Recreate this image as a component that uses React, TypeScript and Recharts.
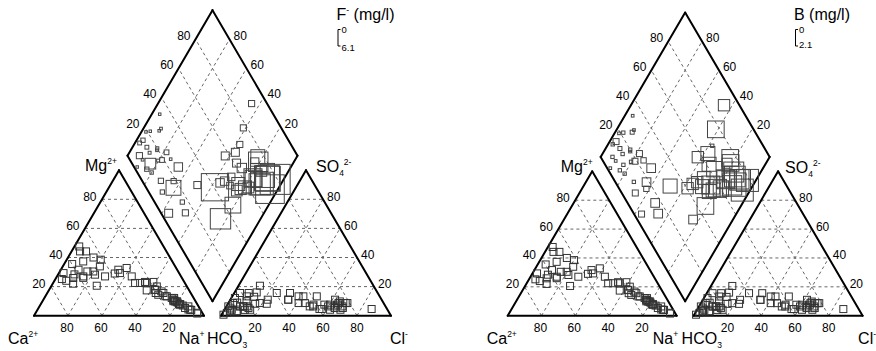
import React from 'react';
import { ScatterChart, Scatter, XAxis, YAxis, ReferenceLine } from 'recharts';

// major ions of each water sample, meq %
const caPct = [59.8, 58, 50.8, 68, 64, 62, 52.8, 49.6, 47.3, 71, 69, 44.3, 50, 53.4, 34.6, 29.1, 44.7, 34.8, 29.3, 29, 23.1, 26.3, 19.8, 12.6, 11.2, 58,
  22.4, 18.2, 17.7, 20, 25, 16.6, 11.2, 12, 6.1, 9, 3, 5.5, 20.6, 19.7, 16, 11.5, 12.9, 11, 10.3, 3.2, 7, 10.8,
  52.4, 41.5, 49.9, 57.5, 16.1, 12.2, 6, 15.2, 8.5, 13, 10, 66, 45, 38];
const mgPct = [35.5, 31.6, 44.2, 29.3, 25.9, 28.4, 20.6, 47.6, 44.2, 25.2, 24, 33.9, 28.2, 30.4, 31.6, 32.8, 27, 29.3, 22.5, 27, 23.2, 22.5, 17.9, 11, 9.8, 26,
  22.5, 23.2, 20.1, 17.7, 17.4, 16.7, 9.8, 11, 4.1, 7, 2, 4, 15.6, 14.4, 13.4, 12.2, 12.2, 9, 7.6, 1.5, 4.3, 7.8,
  37.3, 38.5, 30.4, 27, 15.6, 9.8, 6.4, 13.3, 5.3, 10, 8, 22, 40, 29];
const clPct = [12.6, 13, 8.5, 3.4, 18.5, 1.1, 16, 2.8, 2.1, 8, 4, 8.5, 13.5, 7.7, 13, 12, 8, 12, 9.9, 2.5, 8, 22.8, 25, 22, 34, 3.7,
  86.3, 69, 63.5, 57, 51, 57, 65, 65, 69, 64.8, 70, 68.2, 34.1, 32.8, 41.3, 39, 49, 50.6, 55.6, 68.2, 64.2, 59.8,
  1.1, 4.3, 9.9, 15.1, 45, 41.8, 60.3, 49.7, 61.6, 67.6, 62.1, 5, 10, 3];
const so4Pct = [20.6, 16, 13.3, 15.6, 8.7, 0.7, 8.2, 8.7, 12.2, 6.4, 3, 15.6, 5.3, 3, 13, 4, 3, 6.4, 6.4, 1.9, 6.4, 8.2, 15.6, 11, 11, 3,
  4.6, 8.7, 6.4, 7.6, 6.4, 4.6, 9.8, 7.6, 5.3, 8.7, 8.7, 6.4, 11, 15.6, 8.7, 13.3, 6.4, 7.6, 4.6, 4.1, 5.3, 6.4,
  6.4, 4.1, 6.4, 4.1, 8.7, 13.3, 7.6, 13.3, 11, 8.7, 4.1, 9, 10, 5];
// mg/l
const fluoride = [0.1, 0.15, 0.1, 0.1, 0.12, 0.1, 0.12, 0.4, 0.4, 0.5, 0.9, 0.6, 0.6, 1.9, 1.4, 2.8, 0.7, 0.7, 0.5, 1.3, 0.9, 1.1, 5.5, 4, 3, 0.5,
  0.9, 0.9, 0.9, 1.3, 1.3, 1.3, 3.8, 1.4, 5, 1.9, 6.1, 5, 1.4, 1.4, 1, 1.9, 2.4, 2.4, 1.9, 5.8, 4.5, 3.5,
  0.15, 0.3, 0.2, 0.15, 1.2, 2, 4.2, 1.6, 4.8, 2.6, 3.2, 0.2, 0.25, 0.5];
const boron = [0.05, 0.05, 0.1, 0.05, 0.15, 0.05, 0.25, 0.1, 0.15, 0.3, 0.1, 0.3, 0.3, 0.1, 0.5, 0.25, 0.1, 0.5, 0.5, 0.3, 0.5, 0.9, 0.7, 0.5, 1.1, 0.1,
  0.7, 1.1, 0.1, 0.9, 0.7, 0.9, 1.1, 0.6, 1.3, 1.35, 1.5, 1.4, 0.7, 0.7, 0.9, 0.9, 1.2, 1.2, 1.0, 1.5, 1.6, 1.2,
  0.05, 0.1, 0.1, 0.05, 0.8, 0.9, 1.3, 1.0, 1.4, 1.1, 1.2, 0.1, 0.1, 0.3];

const ticks = [20, 40, 60, 80];

const FONT = '"Liberation Sans", Arial, sans-serif';
const H = Math.sqrt(3) / 2;
const GAP = 10;
const W = 450;
const HGT = 351;
const BASE = 315.7;

// piper projections (triangle side = 100)
const cat = (ca: number, mg: number) => ({ x: 100 - ca - mg + mg / 2, y: mg * H });
const an = (cl: number, so4: number) => ({ x: 100 + GAP + cl + so4 / 2, y: so4 * H });
const dia = (cm: number, sc: number) => ({ x: 100 + GAP / 2 + (50 * (sc - cm)) / 100, y: GAP * H + H * (sc + cm) });

type Seg = [{ x: number; y: number }, { x: number; y: number }];

const gridSegs: Seg[] = [];
ticks.forEach((p) => {
  gridSegs.push([cat(100 - p, p), cat(0, p)]);
  gridSegs.push([cat(p, 0), cat(p, 100 - p)]);
  gridSegs.push([cat(100 - p, 0), cat(0, 100 - p)]);
  gridSegs.push([an(0, p), an(100 - p, p)]);
  gridSegs.push([an(p, 0), an(p, 100 - p)]);
  gridSegs.push([an(100 - p, 0), an(0, 100 - p)]);
  gridSegs.push([dia(p, 0), dia(p, 100)]);
  gridSegs.push([dia(0, p), dia(100, p)]);
});

const outlineSegs: Seg[] = [
  [cat(100, 0), cat(0, 0)], [cat(0, 0), cat(0, 100)], [cat(0, 100), cat(100, 0)],
  [an(0, 0), an(100, 0)], [an(100, 0), an(0, 100)], [an(0, 100), an(0, 0)],
  [dia(0, 0), dia(100, 0)], [dia(100, 0), dia(100, 100)], [dia(100, 100), dia(0, 100)], [dia(0, 100), dia(0, 0)],
];

const tickLabels = [
  ...ticks.map((p) => ({ ...cat(100 - p, p), text: String(p), anchor: 'end', dx: -5.5, dy: 1.5, size: 12 })),
  ...ticks.map((p) => ({ ...cat(p, 0), text: String(p), anchor: 'middle', dx: -1, dy: 16.5, size: 12 })),
  ...ticks.map((p) => ({ ...an(p, 0), text: String(p), anchor: 'middle', dx: 0, dy: 16.5, size: 12 })),
  ...ticks.map((p) => ({ ...an(100 - p, p), text: String(p), anchor: 'start', dx: 4, dy: 1.5, size: 12 })),
  ...ticks.map((p) => ({ ...dia(100, p), text: String(p), anchor: 'end', dx: -5, dy: 1, size: 12 })),
  ...ticks.map((p) => ({ ...dia(p, 100), text: String(p), anchor: 'start', dx: 4, dy: 1, size: 12 })),
];

const ionLabels = [
  { ...cat(100, 0), text: 'Ca', sup: '2+', anchor: 'start', dx: -26, dy: 28.5, size: 16 },
  { ...cat(0, 0), text: 'Na', sup: '+', anchor: 'start', dx: -25, dy: 28.5, size: 16 },
  { ...cat(0, 100), text: 'Mg', sup: '2+', anchor: 'start', dx: -34, dy: 1, size: 16 },
  { ...an(0, 0), text: 'HCO', sub: '3', anchor: 'start', dx: -14, dy: 28.5, size: 16 },
  { ...an(100, 0), text: 'Cl', sup: '-', anchor: 'start', dx: -1, dy: 28.5, size: 16 },
  { ...an(0, 100), text: 'SO', sub: '4', sup: '2-', anchor: 'start', dx: 10, dy: 2, size: 16 },
];

const labelShape = (nudge: Record<string, number>) => (p: any) => {
  const d = p.payload;
  const shift = nudge[d.text] || 0;
  return (
    <text x={p.cx + d.dx + shift} y={p.cy + d.dy} textAnchor={d.anchor} fontSize={d.size} fontFamily={FONT} fill="#000">
      {d.text}
      {d.sub && <tspan fontSize={8.5} dy={4}>{d.sub}</tspan>}
      {d.sup && <tspan fontSize={8.5} dy={d.sub ? -11 : -7}>{d.sup}</tspan>}
    </text>
  );
};

const square = (side: (d: any) => number, stroke: string) => (p: any) => {
  const s = side(p.payload);
  return <rect x={p.cx - s / 2} y={p.cy - s / 2} width={s} height={s} fill="none" stroke={stroke} strokeWidth={1} />;
};

type PanelProps = {
  left: number; x0: number; sx: number; sy: number; conc: number[]; cmax: number; nudge: Record<string, number>;
};

function PiperPanel({ left, x0, sx, sy, conc, cmax, nudge }: PanelProps) {
  const cationPts = caPct.map((ca, i) => cat(ca, mgPct[i]));
  const anionPts = clPct.map((cl, i) => an(cl, so4Pct[i]));
  const diamondPts = caPct.map((ca, i) => ({ ...dia(ca + mgPct[i], clPct[i] + so4Pct[i]), c: conc[i] }));

  return (
    <div style={{ position: 'absolute', left, top: 0 }}>
      <ScatterChart width={W} height={HGT} margin={{ top: 0, right: 0, bottom: 0, left: 0 }}>
        <XAxis type="number" dataKey="x" domain={[-x0 / sx, (W - x0) / sx]} hide allowDataOverflow />
        <YAxis type="number" dataKey="y" domain={[-(HGT - BASE) / sy, BASE / sy]} hide allowDataOverflow />
        {gridSegs.map((s, i) => (
          <ReferenceLine key={'g' + i} segment={s} stroke="#666" strokeWidth={1} strokeDasharray="3 3" ifOverflow="visible" />
        ))}
        {outlineSegs.map((s, i) => (
          <ReferenceLine key={'o' + i} segment={s} stroke="#000" strokeWidth={2} strokeLinecap="round" ifOverflow="visible" />
        ))}
        <Scatter data={cationPts} shape={square(() => 7, '#333')} isAnimationActive={false} />
        <Scatter data={anionPts} shape={square(() => 7, '#333')} isAnimationActive={false} />
        <Scatter data={diamondPts} shape={square((d) => 2 + (28 * d.c) / cmax, '#444')} isAnimationActive={false} />
        <Scatter data={tickLabels} shape={labelShape({})} isAnimationActive={false} />
        <Scatter data={ionLabels} shape={labelShape(nudge)} isAnimationActive={false} />
      </ScatterChart>
    </div>
  );
}

function SizeKey({ x, title, sup, max, maxY }: { x: number; title: string; sup?: string; max: string; maxY: number }) {
  return (
    <g fontFamily={FONT} fill="#000">
      <text x={x} y={20} fontSize={16}>
        {title}
        {sup && <tspan fontSize={8.5} dy={-7}>{sup}</tspan>}
        <tspan dy={sup ? 7 : 0}> (mg/l)</tspan>
      </text>
      <path d={`M${x + 4} 29.5 H${x + 1.5} V46 H${x + 4}`} stroke="#000" fill="none" strokeWidth={1} />
      <text x={x + 5} y={33} fontSize={9.5}>0</text>
      <text x={x + 5} y={maxY} fontSize={9.5}>{max}</text>
    </g>
  );
}

export default function App() {
  return (
    <div style={{ position: 'absolute', left: 0, top: 0, width: 876, height: 351, overflow: 'hidden', background: '#fff' }}>
      <PiperPanel left={0} x0={34} sx={1.7} sy={1.68} conc={fluoride} cmax={6.1} nudge={{}} />
      <PiperPanel left={472} x0={35.7} sx={1.69} sy={1.667} conc={boron} cmax={2.1}
        nudge={{ Ca: 5, Mg: 2.5, Na: 1, HCO: 2, SO: -3, Cl: -3.5 }} />
      <svg width={876} height={351} style={{ position: 'absolute', left: 0, top: 0, pointerEvents: 'none' }}>
        <SizeKey x={336.5} title="F" sup="-" max="6.1" maxY={51} />
        <SizeKey x={794} title="B" max="2.1" maxY={48} />
      </svg>
    </div>
  );
}
